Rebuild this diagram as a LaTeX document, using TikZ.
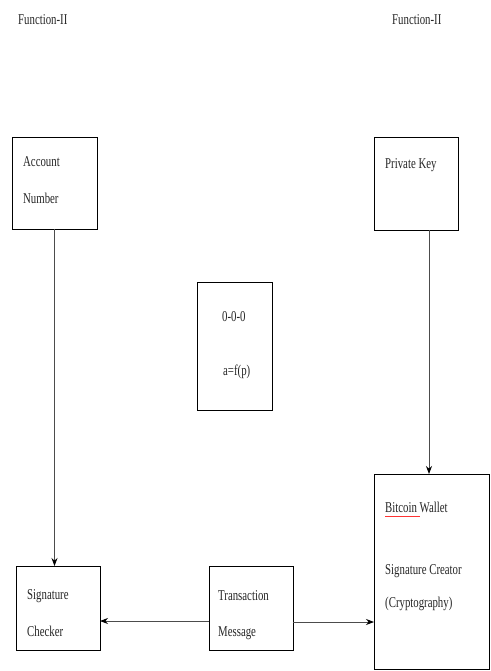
\documentclass[tikz,border=0pt]{standalone}
\usepackage{fontspec}
\setmainfont{Liberation Serif}[FakeStretch=0.72]
\usetikzlibrary{arrows.meta,calc}
\begin{document}
\begin{tikzpicture}[x=1pt,y=-1pt,
  box/.style={draw=black, line width=0.9pt, fill=white, inner sep=0pt, outer sep=0pt, rectangle},
  txt/.style={anchor=base west, inner sep=0pt, text=black!85, font=\fontsize{15}{17}\selectfont},
  conn/.style={draw=black!70, line width=0.8pt, -{Stealth[length=8pt,width=6pt,color=black]}}]
\path[use as bounding box, fill=white] (0,0) rectangle (490,671);
% boxes
\node[box, minimum width=85pt, minimum height=92pt] (acc) at (54.5,183) {};
\node[box, minimum width=84pt, minimum height=93pt] (pk) at (416,183.5) {};
\node[box, minimum width=75pt, minimum height=128pt] (mid) at (234.5,346) {};
\node[box, minimum width=115pt, minimum height=195pt] (bw) at (431.5,571.5) {};
\node[box, minimum width=84pt, minimum height=84pt] (sc) at (58,608) {};
\node[box, minimum width=84pt, minimum height=84pt] (tm) at (251,608) {};
% texts
\node[txt] (f1) at (18,25) {Function-II};
\node[txt] (f2) at (392,25) {Function-II};
\node[txt] (acc1) at (23,167) {Account};
\node[txt] (acc2) at (23,203) {Number};
\node[txt] (pk1) at (385,168) {Private Key};
\node[txt] (m1) at (222,321) {0-0-0};
\node[txt] (m2) at (223,375) {a=f(p)};
\node[txt] (bw1) at (385,512) {Bitcoin Wallet};
\node[txt] (bw2) at (385,574) {Signature Creator};
\node[txt] (bw3) at (385,607) {(Cryptography)};
\node[txt] (sc1) at (27,599) {Signature};
\node[txt] (sc2) at (27,636) {Checker};
\node[txt] (tm1) at (218,600) {Transaction};
\node[txt] (tm2) at (218,636) {Message};
% spell-check underline
\draw[red!80, line width=0.5pt] (385,516) -- (420,516);
% connectors
\draw[conn] (acc.south) -- (acc.south |- sc.north);
\draw[conn] ($(pk.south)+(13,0)$) -- ($(pk.south |- bw.north)+(13,0)$);
\draw[conn] ($(tm.west)+(0,13)$) -- ($(sc.east)+(0,13)$);
\draw[conn] ($(tm.east)+(0,14)$) -- ($(bw.west |- tm.east)+(0,14)$);
\end{tikzpicture}
\end{document}
